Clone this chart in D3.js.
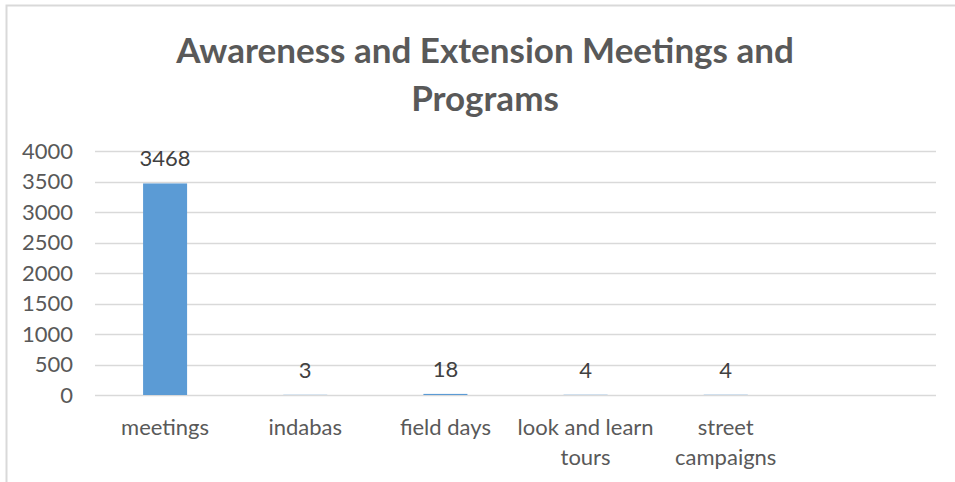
<!DOCTYPE html>
<html>
<head>
<meta charset="utf-8">
<script src="https://cdn.jsdelivr.net/npm/d3@7"></script>
<style>
  body { margin: 0; background: #fff; }
  text { font-family: Lato, "Open Sans", sans-serif; }
</style>
</head>
<body>
<svg id="chart" width="955" height="482"></svg>
<script>
// data
const categories = ["meetings", "indabas", "field days", "look and learn tours", "street campaigns", ""];
const values = [3468, 3, 18, 4, 4, null];
const yTicks = [0, 500, 1000, 1500, 2000, 2500, 3000, 3500, 4000];
const titleLines = ["Awareness and Extension Meetings and", "Programs"];

const svg = d3.select("#chart");
const margin = {left: 95, right: 19, top: 151, bottom: 87};
const width = 955, height = 482;

const barColor = "#5b9bd5";
const textColor = "#595959";
const gridColor = "#d9d9d9";

// outer chart border
svg.append("path")
    .attr("d", `M6.5,${height} V5.5 H955`)
    .attr("fill", "none")
    .attr("stroke", gridColor)
    .attr("stroke-width", 2);

// title
svg.append("text")
    .attr("x", 485)
    .attr("y", 63)
    .attr("text-anchor", "middle")
    .attr("fill", textColor)
    .attr("font-weight", 700)
    .attr("font-size", "35px")
    .selectAll("tspan")
    .data(titleLines)
    .join("tspan")
    .attr("x", 485)
    .attr("dy", (d, i) => i === 0 ? 0 : 48)
    .text(d => d);

const xScale = d3.scaleBand()
    .domain(categories.map((d, i) => i))
    .range([margin.left, width - margin.right])
    .paddingInner(0.686)
    .paddingOuter(0.343);

const yScale = d3.scaleLinear()
    .domain([0, 4000])
    .range([height - margin.bottom, margin.top]);

// gridlines
svg.append("g")
    .selectAll("line")
    .data(yTicks)
    .join("line")
    .attr("x1", margin.left)
    .attr("x2", width - margin.right)
    .attr("y1", d => Math.round(yScale(d)) + 0.5)
    .attr("y2", d => Math.round(yScale(d)) + 0.5)
    .attr("stroke", gridColor)
    .attr("stroke-width", 1.5);

// y axis labels
const yAxis = d3.axisLeft(yScale)
    .tickValues(yTicks)
    .tickFormat(d3.format("d"))
    .tickSize(0)
    .tickPadding(0);

svg.append("g")
    .attr("transform", `translate(73,0)`)
    .call(yAxis)
    .call(g => g.select(".domain").remove())
    .call(g => g.selectAll("text")
        .attr("fill", textColor)
        .attr("font-size", "22px")
        .style("font-family", "Lato, 'Open Sans', sans-serif"));

// bars
const plotData = categories.map((c, i) => ({i, c, v: values[i]})).filter(d => d.v !== null);

svg.append("g")
    .selectAll("rect")
    .data(plotData)
    .join("rect")
    .attr("x", d => xScale(d.i))
    .attr("width", xScale.bandwidth())
    .attr("y", d => yScale(d.v))
    .attr("height", d => yScale(0) - yScale(d.v))
    .attr("fill", barColor);

// value labels
svg.append("g")
    .selectAll("text")
    .data(plotData)
    .join("text")
    .attr("x", d => xScale(d.i) + xScale.bandwidth() / 2)
    .attr("y", d => yScale(d.v) - 17)
    .attr("text-anchor", "middle")
    .attr("fill", "#404040")
    .attr("font-size", "22px")
    .text(d => d.v);

// category labels (wrapped)
const wrapLabel = (label) => {
    if (label === "look and learn tours") return ["look and learn", "tours"];
    if (label === "street campaigns") return ["street", "campaigns"];
    return [label];
};

svg.append("g")
    .selectAll("text")
    .data(categories.map((c, i) => ({c, i})))
    .join("text")
    .attr("text-anchor", "middle")
    .attr("fill", textColor)
    .attr("font-size", "22px")
    .each(function(d) {
        const cx = xScale(d.i) + xScale.bandwidth() / 2;
        d3.select(this).selectAll("tspan")
            .data(wrapLabel(d.c))
            .join("tspan")
            .attr("x", cx)
            .attr("y", (l, k) => 435 + k * 30)
            .text(l => l);
    });
</script>
</body>
</html>
